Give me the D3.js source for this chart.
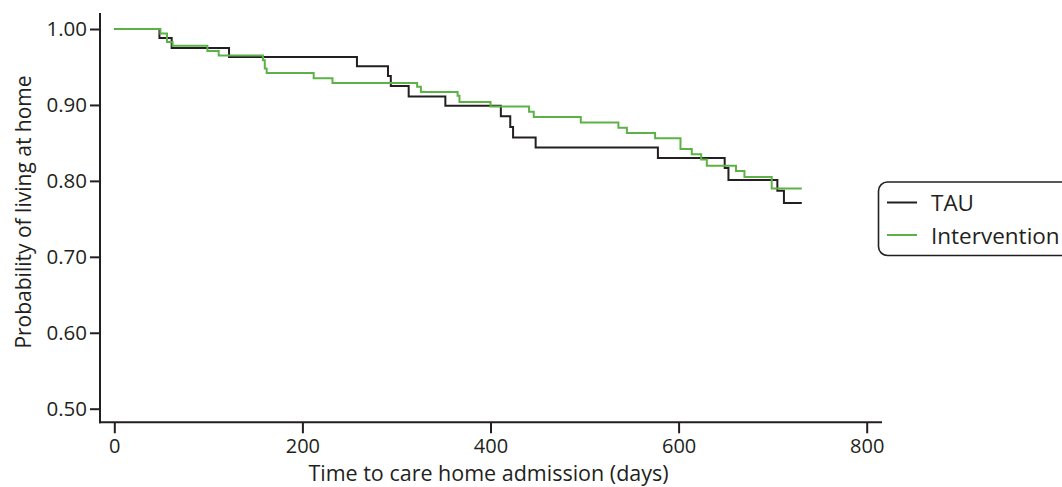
<!DOCTYPE html>
<html>
<head>
<meta charset="utf-8">
<script src="https://cdn.jsdelivr.net/npm/d3@7"></script>
<style>
  html, body { margin: 0; padding: 0; background: #fff; }
  svg { display: block; }
  text { font-family: "Open Sans", "Noto Sans", sans-serif; fill: #231f20; }
</style>
</head>
<body>
<svg id="chart" width="1062" height="487"></svg>
<script>
// ---- Data ----
const seriesNames = ["TAU", "Intervention"];
const seriesColors = ["#231f20", "#5cb247"];

const tauTimes = [0, 48, 61, 122, 258, 291, 294, 313, 352, 411, 421, 424, 448, 578, 649, 653, 705, 712, 731];
const tauSurv  = [1.000, 0.988, 0.975, 0.963, 0.951, 0.938, 0.925, 0.911, 0.899, 0.885, 0.871, 0.857, 0.844, 0.830, 0.817, 0.801, 0.787, 0.771, 0.771];

const intTimes = [0, 49, 56, 62, 99, 111, 158, 160, 162, 212, 232, 322, 326, 365, 367, 400, 441, 446, 496, 536, 545, 575, 602, 614, 624, 630, 661, 670, 699, 731];
const intSurv  = [1.000, 0.994, 0.983, 0.978, 0.971, 0.965, 0.959, 0.948, 0.942, 0.935, 0.929, 0.924, 0.917, 0.912, 0.904, 0.898, 0.891, 0.884, 0.877, 0.870, 0.863, 0.856, 0.842, 0.835, 0.828, 0.820, 0.813, 0.805, 0.790, 0.790];

const xTicks = [0, 200, 400, 600, 800];
const yTicks = [0.50, 0.60, 0.70, 0.80, 0.90, 1.00];

const xTitle = "Time to care home admission (days)";
const yTitle = "Probability of living at home";

// ---- Layout ----
const svg = d3.select("#chart");
const axisColor = "#231f20";

const x = d3.scaleLinear().domain([0, 800]).range([114.3, 866.7]);
const y = d3.scaleLinear().domain([0.5, 1.0]).range([408.7, 29]);

const axisLeftX = 100, axisBottomY = 422.3;

// Axes lines
svg.append("line")
  .attr("x1", axisLeftX).attr("x2", axisLeftX)
  .attr("y1", 13).attr("y2", axisBottomY + 1)
  .attr("stroke", axisColor).attr("stroke-width", 2);
svg.append("line")
  .attr("x1", axisLeftX - 1).attr("x2", 882)
  .attr("y1", axisBottomY).attr("y2", axisBottomY)
  .attr("stroke", axisColor).attr("stroke-width", 2);

// Y axis
const yAxis = svg.append("g")
  .attr("transform", `translate(${axisLeftX},0)`)
  .call(d3.axisLeft(y).tickValues(yTicks).tickFormat(d3.format(".2f")).tickSize(10).tickPadding(3));
yAxis.select(".domain").remove();
yAxis.selectAll(".tick line").attr("stroke", axisColor).attr("stroke-width", 2);
yAxis.selectAll(".tick text").attr("font-size", 20.5).attr("font-family", null).attr("fill", axisColor);

// X axis
const xAxis = svg.append("g")
  .attr("transform", `translate(0,${axisBottomY})`)
  .call(d3.axisBottom(x).tickValues(xTicks).tickFormat(d3.format("d")).tickSize(11).tickPadding(6));
xAxis.select(".domain").remove();
xAxis.selectAll(".tick line").attr("stroke", axisColor).attr("stroke-width", 2);
xAxis.selectAll(".tick text").attr("font-size", 20).attr("font-family", null).attr("fill", axisColor);

// Axis titles
svg.append("text")
  .attr("x", (x(0) + x(800)) / 2 - 2)
  .attr("y", 481)
  .attr("text-anchor", "middle")
  .attr("font-size", 21.5)
  .text(xTitle);

svg.append("text")
  .attr("transform", `translate(31,212) rotate(-90)`)
  .attr("text-anchor", "middle")
  .attr("font-size", 21)
  .text(yTitle);

// Survival curves
const line = d3.line()
  .x(d => x(d[0]))
  .y(d => y(d[1]))
  .curve(d3.curveStepAfter);

const series = [
  d3.zip(tauTimes, tauSurv),
  d3.zip(intTimes, intSurv)
];

svg.append("g").selectAll("path")
  .data(series)
  .join("path")
  .attr("d", line)
  .attr("fill", "none")
  .attr("stroke", (d, i) => seriesColors[i])
  .attr("stroke-width", 2);

// Legend
const lg = svg.append("g");
lg.append("rect")
  .attr("x", 878.5).attr("y", 182)
  .attr("width", 200).attr("height", 73.5)
  .attr("rx", 9).attr("ry", 9)
  .attr("fill", "#fff")
  .attr("stroke", axisColor).attr("stroke-width", 1.6);

const legendLineY = [202.5, 235];
const legendTextY = [211, 243.5];
seriesNames.forEach((name, i) => {
  lg.append("line")
    .attr("x1", 887).attr("x2", 917)
    .attr("y1", legendLineY[i]).attr("y2", legendLineY[i])
    .attr("stroke", seriesColors[i]).attr("stroke-width", 2);
  lg.append("text")
    .attr("x", 931).attr("y", legendTextY[i])
    .attr("font-size", 22.5)
    .text(name);
});
</script>
</body>
</html>
